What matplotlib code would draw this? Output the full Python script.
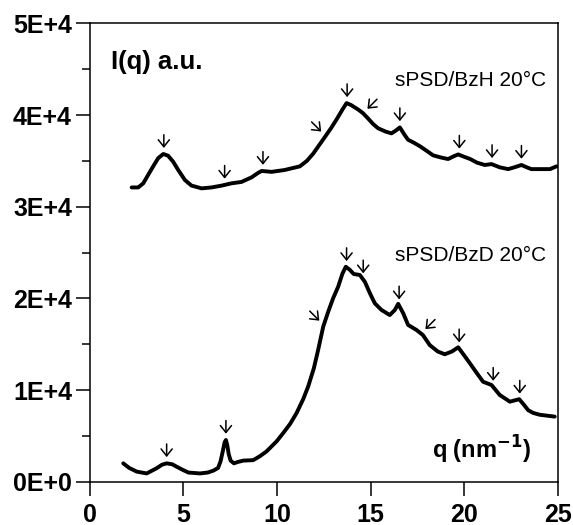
import numpy as np
import matplotlib.pyplot as plt
from matplotlib.ticker import MultipleLocator, FuncFormatter

plt.rcParams["font.family"] = ["Liberation Sans", "DejaVu Sans"]

# sPSD/BzH, 20 C  (intensity in units of 1E+4)
q_bzh = [2.23, 2.58, 2.85, 3.12, 3.38, 3.65, 3.92, 4.18, 4.45, 4.72, 5.08, 5.43, 5.97,
         6.5, 7.04, 7.57, 8.1, 8.64, 9.0, 9.18, 9.71, 10.4, 11.22, 11.6, 11.94, 12.25,
         12.56, 12.9, 13.18, 13.5, 13.72, 13.95, 14.34, 14.6, 14.88, 15.15, 15.41, 15.8,
         16.12, 16.35, 16.57, 16.8, 17.01, 17.3, 17.64, 18.0, 18.35, 18.8, 19.15, 19.45,
         19.69, 20.0, 20.33, 20.7, 21.11, 21.47, 21.9, 22.36, 22.7, 23.07, 23.35, 23.6,
         24.23, 24.6, 24.94]
i_bzh = [3.21, 3.21, 3.255, 3.35, 3.44, 3.53, 3.575, 3.556, 3.49, 3.40, 3.29, 3.23, 3.20,
         3.21, 3.23, 3.255, 3.27, 3.32, 3.37, 3.39, 3.38, 3.40, 3.44, 3.50, 3.58, 3.67,
         3.76, 3.86, 3.95, 4.06, 4.13, 4.11, 4.06, 4.02, 3.96, 3.90, 3.855, 3.82,
         3.80, 3.83, 3.865, 3.79, 3.73, 3.70, 3.66, 3.61, 3.56, 3.535, 3.52, 3.55,
         3.57, 3.545, 3.52, 3.48, 3.455, 3.465, 3.43, 3.41, 3.43, 3.455, 3.43, 3.41,
         3.41, 3.41, 3.44]

# sPSD/BzD, 20 C
q_bzd = [1.78, 2.1, 2.5, 3.03, 3.56, 3.85, 4.1, 4.4, 4.63, 4.95, 5.26, 5.88, 6.3, 6.59,
         6.85, 6.98, 7.1, 7.2, 7.27, 7.34, 7.42, 7.52, 7.7, 7.9, 8.2, 8.73, 9.1, 9.44,
         9.98, 10.33, 10.7, 11.05, 11.4, 11.67, 11.97, 12.2, 12.47, 12.74, 13.0, 13.27,
         13.5, 13.68, 13.9, 14.1, 14.43, 14.7, 14.97, 15.23, 15.59, 16.03, 16.3, 16.48,
         16.75, 17.01, 17.46, 17.8, 18.17, 18.6, 18.97, 19.35, 19.69, 20.0, 20.32, 20.7,
         21.02, 21.47, 21.91, 22.45, 22.95, 23.2, 23.43, 23.7, 24.05, 24.85]
i_bzd = [0.20, 0.15, 0.11, 0.09, 0.146, 0.185, 0.20, 0.19, 0.164, 0.13, 0.10, 0.09, 0.10, 0.12,
         0.15, 0.22, 0.33, 0.43, 0.455, 0.40, 0.30, 0.23, 0.20, 0.215, 0.23, 0.235, 0.28, 0.33,
         0.44, 0.53, 0.63, 0.75, 0.90, 1.04, 1.237, 1.437, 1.69, 1.855, 2.0, 2.127,
         2.27, 2.345, 2.31, 2.266, 2.255, 2.18, 2.055, 1.946, 1.873, 1.818, 1.873, 1.94,
         1.837, 1.71, 1.655, 1.60, 1.49, 1.42, 1.39, 1.42, 1.466, 1.38, 1.29, 1.18,
         1.09, 1.055, 0.946, 0.873, 0.90, 0.84, 0.78, 0.75, 0.73, 0.71]

# reflection markers: (q, direction) with 'd' = straight down, 'se' / 'sw' = diagonal
marks_bzh = [(3.95, "d"), (7.2, "d"), (9.25, "d"), (12.6, "se"), (13.75, "d"),
             (14.6, "sw"), (16.57, "d"), (19.75, "d"), (21.5, "d"), (23.07, "d")]
marks_bzd = [(4.1, "d"), (7.27, "d"), (12.5, "se"), (13.72, "d"), (14.61, "d"),
             (16.53, "d"), (17.7, "sw"), (19.74, "d"), (21.56, "d"), (22.98, "d")]

scale = 1e4

fig = plt.figure(figsize=(5.73, 5.25), dpi=100)
ax = fig.add_axes([0.157, 0.0825, 0.816, 0.873])

for q, i in [(q_bzh, i_bzh), (q_bzd, i_bzd)]:
    ax.plot(q, np.array(i) * scale, color="black", lw=2.8,
            solid_joinstyle="round", solid_capstyle="round")

# small arrows pointing at the reflections
tails = {"d": (0, 1), "se": (-0.72, 0.72), "sw": (0.72, 0.72)}
for q, i, marks in [(q_bzh, i_bzh, marks_bzh), (q_bzd, i_bzd, marks_bzd)]:
    for qm, d in marks:
        y = np.interp(qm, q, i) * scale
        dx, dy = tails[d]
        ax.annotate("", xy=(qm, y), xytext=(dx * 14, dy * 14),
                    textcoords="offset points",
                    arrowprops=dict(arrowstyle="->,head_length=0.5,head_width=0.4",
                                    lw=1.1, color="black", mutation_scale=10,
                                    shrinkA=0, shrinkB=4.5))

ax.set_xlim(0, 25)
ax.set_ylim(0, 5e4)
ax.xaxis.set_major_locator(MultipleLocator(5))
ax.yaxis.set_major_locator(MultipleLocator(1e4))
ax.yaxis.set_minor_locator(MultipleLocator(5e3))
ax.yaxis.set_major_formatter(FuncFormatter(lambda v, p: f"{int(round(v / 1e4))}E+4" if v else "0E+0"))

ax.tick_params(axis="both", which="major", direction="out", length=10, width=1.1,
               labelsize=18, pad=3)
ax.tick_params(axis="x", which="major", pad=5)
ax.tick_params(axis="y", which="minor", direction="out", length=6, width=1.1)
for lab in ax.get_xticklabels() + ax.get_yticklabels():
    lab.set_fontweight("bold")
for s in ax.spines.values():
    s.set_linewidth(1.1)

ax.text(1.1, 4.58e4, "I(q) a.u.", fontsize=18.5, fontweight="bold", va="center", ha="left")
ax.text(24.4, 4.38e4, "sPSD/BzH 20°C", fontsize=15, va="center", ha="right")
ax.text(24.4, 2.47e4, "sPSD/BzD 20°C", fontsize=15, va="center", ha="right")
ax.text(23.6, 0.35e4, "q (nm$^{\\mathbf{-1}}$)", fontsize=17, fontweight="bold",
        va="center", ha="right")

fig.savefig("out.png", dpi=100)
